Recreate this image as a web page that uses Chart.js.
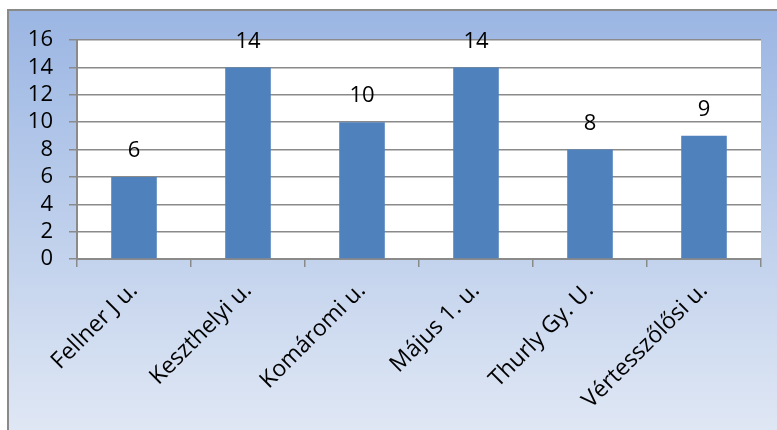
<!DOCTYPE html>
<html>
<head>
<meta charset="utf-8">
<script src="https://cdn.jsdelivr.net/npm/chart.js@4/dist/chart.umd.min.js"></script>
<style>
  html, body { margin: 0; padding: 0; background: #fff; }
  #wrap { width: 777px; height: 430px; position: relative; }
</style>
</head>
<body>
<div id="wrap"><canvas id="chart"></canvas></div>
<script>
const categories = ['Fellner J u.', 'Keszthelyi u.', 'Komáromi u.', 'Május 1. u.', 'Thurly Gy. U.', 'Vértesszőlősi u.'];
const values = [6, 14, 10, 14, 8, 9];
const yTicks = [0, 2, 4, 6, 8, 10, 12, 14, 16];

const FONT = '"Open Sans", "Liberation Sans", sans-serif';

// outer frame with the blue gradient + white plot area
const backdrop = {
  id: 'backdrop',
  beforeDraw(chart) {
    const ctx = chart.ctx;
    const a = chart.chartArea;
    ctx.save();
    const g = ctx.createLinearGradient(0, 10, 0, 430);
    g.addColorStop(0, '#9bb6e3');
    g.addColorStop(1, '#dfe7f4');
    ctx.fillStyle = g;
    ctx.fillRect(8, 10, 777, 430);
    ctx.strokeStyle = '#8a8a8a';
    ctx.lineWidth = 2;
    ctx.beginPath();
    ctx.moveTo(8, 440);
    ctx.lineTo(8, 10);
    ctx.lineTo(790, 10);
    ctx.stroke();
    ctx.fillStyle = '#ffffff';
    ctx.fillRect(a.left, a.top, a.right - a.left, a.bottom - a.top);
    ctx.restore();
  }
};

// value labels above bars
const valueLabels = {
  id: 'valueLabels',
  afterDatasetsDraw(chart) {
    const ctx = chart.ctx;
    const meta = chart.getDatasetMeta(0);
    ctx.save();
    ctx.font = '22px ' + FONT;
    ctx.fillStyle = '#000';
    ctx.textAlign = 'center';
    ctx.textBaseline = 'middle';
    meta.data.forEach((bar, i) => {
      ctx.fillText(String(values[i]), bar.x, bar.y - 26);
    });
    ctx.restore();
  }
};

new Chart(document.getElementById('chart'), {
  type: 'bar',
  data: {
    labels: categories,
    datasets: [{
      data: values,
      backgroundColor: '#4f81bd',
      borderWidth: 0,
      categoryPercentage: 1,
      barPercentage: 0.4
    }]
  },
  options: {
    responsive: true,
    maintainAspectRatio: false,
    animation: false,
    layout: { padding: { top: 40, right: 16, left: 0, bottom: 0 } },
    plugins: {
      legend: { display: false },
      tooltip: { enabled: false }
    },
    scales: {
      x: {
        grid: {
          offset: true,
          drawOnChartArea: false,
          color: '#8a8a8a',
          lineWidth: 1.5,
          tickLength: 8
        },
        border: { color: '#8a8a8a', width: 2 },
        ticks: {
          color: '#000',
          font: { family: FONT, size: 23 },
          minRotation: 45,
          maxRotation: 45,
          padding: 10,
          autoSkip: false
        },
        afterFit(scale) { scale.height = 171; }
      },
      y: {
        min: 0,
        max: 16,
        afterBuildTicks(scale) { scale.ticks = yTicks.map(v => ({ value: v })); },
        grid: {
          color: '#8a8a8a',
          lineWidth: 1.5,
          tickLength: 8
        },
        border: { color: '#8a8a8a', width: 2 },
        ticks: {
          color: '#000',
          font: { family: FONT, size: 22 },
          padding: 16,
          autoSkip: false
        },
        afterFit(scale) { scale.width = 77; }
      }
    }
  },
  plugins: [backdrop, valueLabels]
});
</script>
</body>
</html>
